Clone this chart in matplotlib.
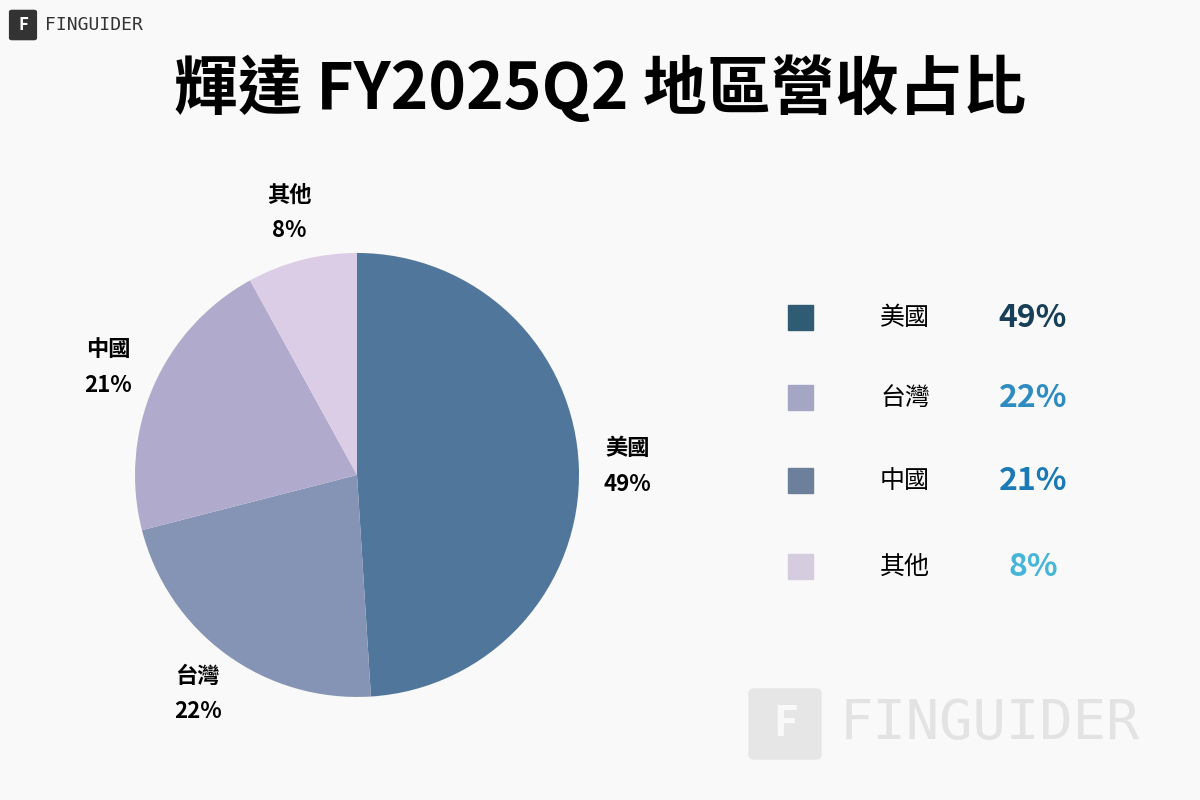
import matplotlib
matplotlib.use("Agg")
import matplotlib.pyplot as plt
from matplotlib.patches import FancyBboxPatch

plt.rcParams['font.family'] = ['Noto Sans CJK TC', 'DejaVu Sans']

regions = ["美國", "台灣", "中國", "其他"]
shares = [49, 22, 21, 8]
pie_colors = ["#50779b", "#8593b5", "#b0abcc", "#dccde6"]
legend_sq = ["#2f5b73", "#a4a6c4", "#6c809c", "#d6cce0"]
legend_pct = ["#173f57", "#2e8cc0", "#1a7ab5", "#45b5d8"]
title = "輝達 FY2025Q2 地區營收占比"

fig = plt.figure(figsize=(12, 8), dpi=100)
fig.patch.set_facecolor("#f9f9f9")

fig.text(0.5, 0.888, title, ha="center", va="center", fontsize=46, fontweight="heavy")

ax = fig.add_axes([0.1125, 0.1288, 0.37, 0.555])
ax.set_facecolor("none")
labels = [f"{r}\n{s}%" for r, s in zip(regions, shares)]
wedges, texts = ax.pie(shares, colors=pie_colors, startangle=90, counterclock=False,
                       labels=labels, labeldistance=1.22,
                       textprops=dict(fontsize=16, fontweight="bold", linespacing=1.7,
                                      ha="center", va="center"))
ax.set_xlim(-1, 1)
ax.set_ylim(-1, 1)
ax.set_aspect("equal")

# legend
ys = [318, 398, 481, 567]
for r, sq, pc, y, s in zip(regions, legend_sq, legend_pct, ys, shares):
    yf = 1 - y / 800
    fig.patches.append(plt.Rectangle((788/1200, yf - 12/800), 25/1200, 25/800,
                                     transform=fig.transFigure, color=sq))
    fig.text(905/1200, yf, r, ha="center", va="center", fontsize=18)
    fig.text(1033/1200, yf, f"{s}%", ha="center", va="center", fontsize=23,
             fontweight="bold", color=pc)

# logo top-left
fig.patches.append(FancyBboxPatch((12/1200, 1 - 38/800), 22/1200, 26/800,
                                  boxstyle="round,pad=0.002", transform=fig.transFigure,
                                  color="#333333"))
fig.text(23/1200, 1 - 25/800, "F", ha="center", va="center", fontsize=12,
         color="white", fontweight="bold")
fig.text(45/1200, 1 - 25/800, "FINGUIDER", ha="left", va="center", fontsize=13,
         color="#333333", family="DejaVu Sans Mono")

# watermark
fig.patches.append(FancyBboxPatch((755/1200, 1 - 755/800), 60/1200, 62/800,
                                  boxstyle="round,pad=0.005", transform=fig.transFigure,
                                  color="#e6e6e6"))
fig.text(785/1200, 1 - 724/800, "F", ha="center", va="center", fontsize=30,
         color="#f9f9f9", fontweight="bold")
fig.text(840/1200, 1 - 724/800, "FINGUIDER", ha="left", va="center", fontsize=40,
         color="#e3e3e3", family="DejaVu Sans Mono")

fig.savefig("out.png", dpi=100, facecolor=fig.get_facecolor())
